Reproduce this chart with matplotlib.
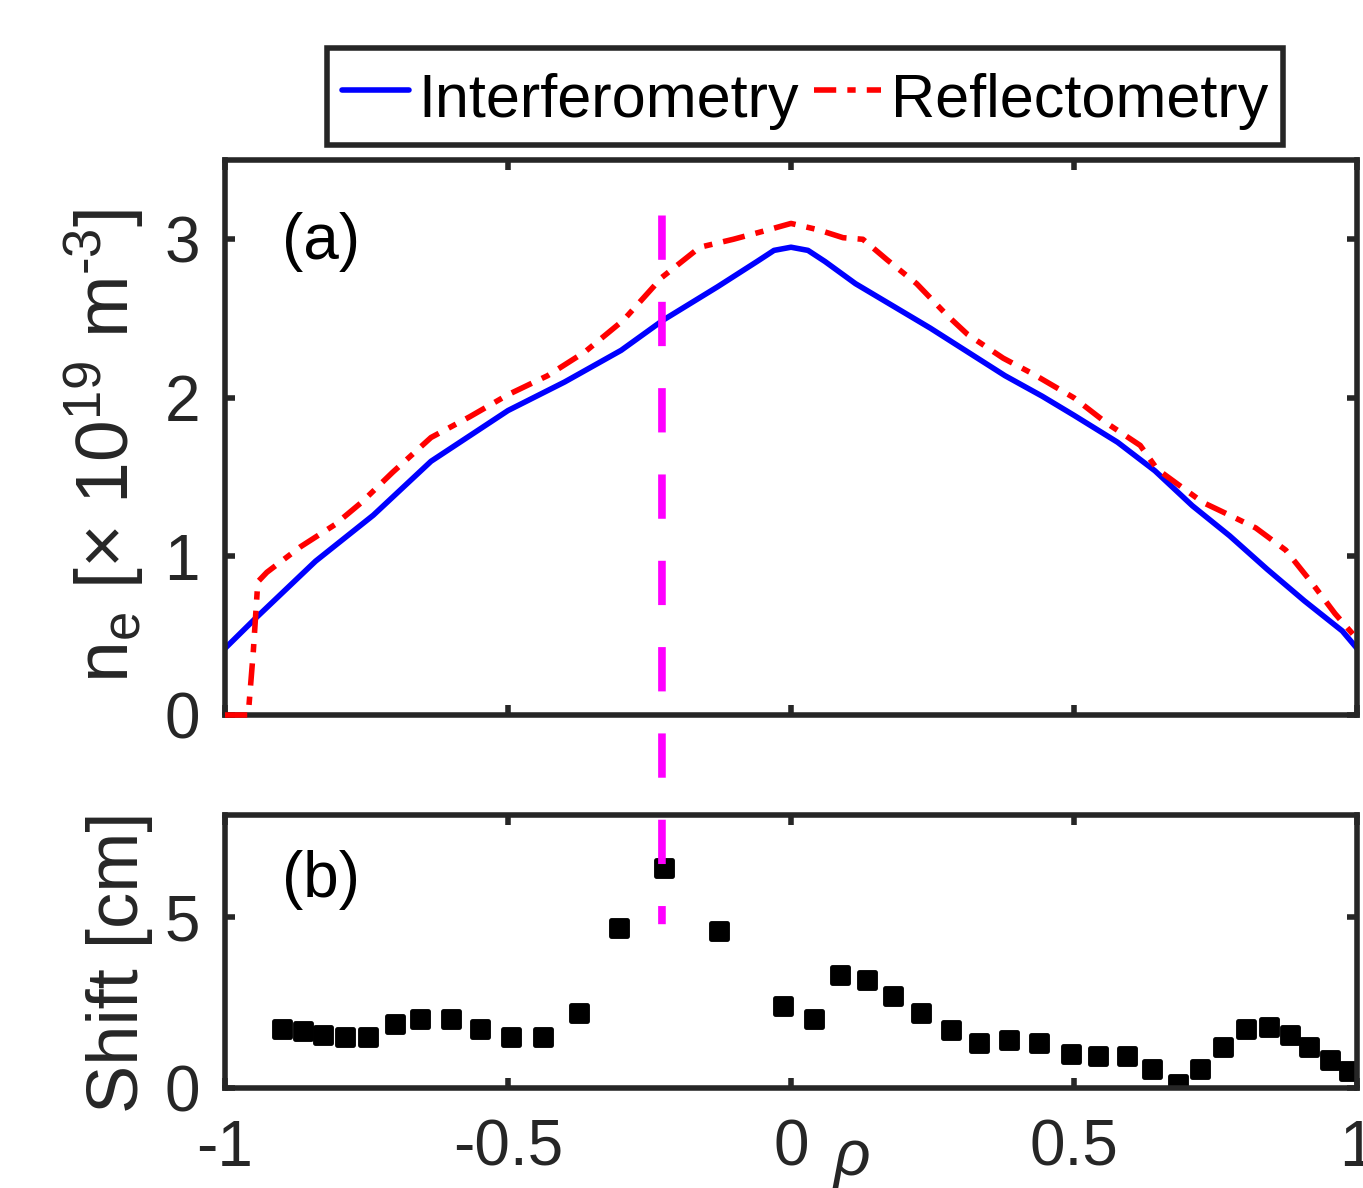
import matplotlib
matplotlib.use('Agg')
import matplotlib.pyplot as plt
from matplotlib.patches import ConnectionPatch
from matplotlib.markers import MarkerStyle

plt.rcParams['font.family'] = ['Liberation Sans', 'DejaVu Sans']
plt.rcParams['mathtext.fontset'] = 'custom'
plt.rcParams['mathtext.rm'] = 'Liberation Sans'
plt.rcParams['mathtext.it'] = 'Liberation Sans:italic'
plt.rcParams['axes.unicode_minus'] = False

# ---------------- data ----------------
rho_interf = [-1.0, -0.946, -0.84, -0.738, -0.636, -0.568, -0.5, -0.4, -0.3, -0.226,
              -0.13, -0.06, -0.03, 0.0, 0.03, 0.06, 0.114, 0.18, 0.246, 0.312, 0.378,
              0.444, 0.5, 0.577, 0.643, 0.709, 0.775, 0.841, 0.907, 0.974, 1.0]
ne_interf = [0.42, 0.61, 0.97, 1.26, 1.60, 1.76, 1.92, 2.10, 2.30, 2.49,
             2.70, 2.86, 2.93, 2.95, 2.93, 2.86, 2.72, 2.58, 2.44, 2.29, 2.14,
             2.01, 1.89, 1.72, 1.54, 1.32, 1.13, 0.92, 0.72, 0.53, 0.42]

rho_reflect = [-1.0, -0.959, -0.95, -0.942, -0.926, -0.867, -0.806, -0.759, -0.704,
               -0.636, -0.568, -0.5, -0.43, -0.364, -0.296, -0.228, -0.161, -0.102,
               -0.05, 0.0, 0.048, 0.092, 0.127, 0.17, 0.222, 0.276, 0.312,
               0.375, 0.428, 0.5, 0.558, 0.617, 0.647, 0.693, 0.728, 0.775, 0.821,
               0.874, 0.921, 0.961, 1.0]
ne_reflect = [0.0, 0.0, 0.40, 0.84, 0.90, 1.06, 1.20, 1.34, 1.53,
              1.75, 1.88, 2.02, 2.14, 2.29, 2.49, 2.76, 2.95, 3.00,
              3.05, 3.10, 3.06, 3.01, 3.00, 2.87, 2.72, 2.52, 2.40,
              2.25, 2.15, 2.00, 1.84, 1.70, 1.55, 1.43, 1.34, 1.26, 1.18,
              1.04, 0.83, 0.64, 0.48]

rho_shift = [-0.899, -0.863, -0.827, -0.788, -0.748, -0.699, -0.655, -0.601, -0.549,
             -0.495, -0.438, -0.375, -0.304, -0.224, -0.127, -0.015, 0.041, 0.086,
             0.135, 0.180, 0.229, 0.283, 0.333, 0.386, 0.439, 0.494, 0.543, 0.593,
             0.638, 0.684, 0.723, 0.763, 0.804, 0.844, 0.881, 0.916, 0.952, 0.985]
shift_cm = [1.73, 1.66, 1.56, 1.49, 1.49, 1.88, 2.02, 2.02, 1.73,
            1.49, 1.49, 2.20, 4.69, 6.45, 4.61, 2.41, 2.01, 3.31,
            3.17, 2.71, 2.19, 1.70, 1.33, 1.40, 1.33, 1.01, 0.94, 0.94,
            0.57, 0.11, 0.57, 1.19, 1.72, 1.79, 1.55, 1.19, 0.81, 0.49]

rho_mark = -0.228
mark_top_ne = 3.15
mark_bottom_shift = 4.8

x_ticks = [-1, -0.5, 0, 0.5, 1]
x_ticklabels = ['-1', '-0.5', '0', '0.5', '1']
ne_ticks = [0, 1, 2, 3]
shift_ticks = [0, 5]
series_labels = ['Interferometry', 'Reflectometry']

# ---------------- figure ----------------
W, H = 1363, 1188
fig = plt.figure(figsize=(W / 100, H / 100), dpi=100)
ax1 = fig.add_axes([225 / W, 1 - 715 / H, 1132 / W, 555 / H])
ax2 = fig.add_axes([225 / W, 1 - 1088 / H, 1132 / W, 273 / H])

dark = '#262626'
for ax in (ax1, ax2):
    for s in ax.spines.values():
        s.set_linewidth(4)
        s.set_color(dark)
    ax.tick_params(direction='in', length=7, width=4, top=True, right=True,
                   colors=dark, labelsize=46, labelcolor=dark)
    ax.tick_params(axis='x', pad=22)
    ax.tick_params(axis='y', pad=18)
    ax.set_xlim(-1, 1)
    ax.set_xticks(x_ticks)

ax1.set_xticklabels([])
ax2.set_xticklabels(x_ticklabels)
ax1.set_ylim(0, 3.5)
ax1.set_yticks(ne_ticks)
ax1.set_yticklabels([str(t) for t in ne_ticks])
ax2.set_ylim(0, 8)
ax2.set_yticks(shift_ticks)
ax2.set_yticklabels([str(t) for t in shift_ticks])

l1, = ax1.plot(rho_interf, ne_interf, color='#0000FF', lw=4,
               solid_joinstyle='round', solid_capstyle='round')
l2, = ax1.plot(rho_reflect, ne_reflect, color='#FF0000', lw=4,
               linestyle=(0, (4, 2, 1.5, 2)), clip_on=False, zorder=3)

ax2.plot(rho_shift, shift_cm, linestyle='none',
         marker=MarkerStyle('s', joinstyle='round'), markersize=11,
         color='black', markeredgewidth=3.5, markeredgecolor='black')

ax1.text(-0.9, 2.98, '(a)', fontsize=46, ha='left', va='center', color='black')
ax2.text(-0.9, 6.1, '(b)', fontsize=46, ha='left', va='center', color='black')

ax1.set_ylabel(r'$\mathregular{n_e\ [\times\ 10^{19}\ m^{\text{-}3}]}$', fontsize=54, color=dark)
ax1.yaxis.set_label_coords(-0.069, 0.485)
ax2.set_ylabel('Shift [cm]', fontsize=52, color=dark)
ax2.yaxis.set_label_coords(-0.064, 0.46)

ax2.text(0.108, -0.26, 'ρ', style='italic', fontsize=46, ha='center', va='center',
         color=dark, transform=ax2.get_xaxis_transform())

con = ConnectionPatch(xyA=(rho_mark, mark_top_ne), coordsA=ax1.transData,
                      xyB=(rho_mark, mark_bottom_shift), coordsB=ax2.transData,
                      color='#FF00FF', lw=5.5, linestyle=(0, (5.8, 5.5)),
                      capstyle='butt')
fig.add_artist(con)

leg = fig.legend([l1, l2], series_labels, loc='lower center',
                 bbox_to_anchor=(805 / W, 1 - 145 / H), ncol=2, frameon=True,
                 fancybox=False, edgecolor=dark, framealpha=1, fontsize=44,
                 handlelength=1.1, handleheight=1.3, handletextpad=0.15,
                 columnspacing=0.25, borderpad=0.25, borderaxespad=0)
leg.get_frame().set_linewidth(4)

fig.savefig('out.png', dpi=100)
